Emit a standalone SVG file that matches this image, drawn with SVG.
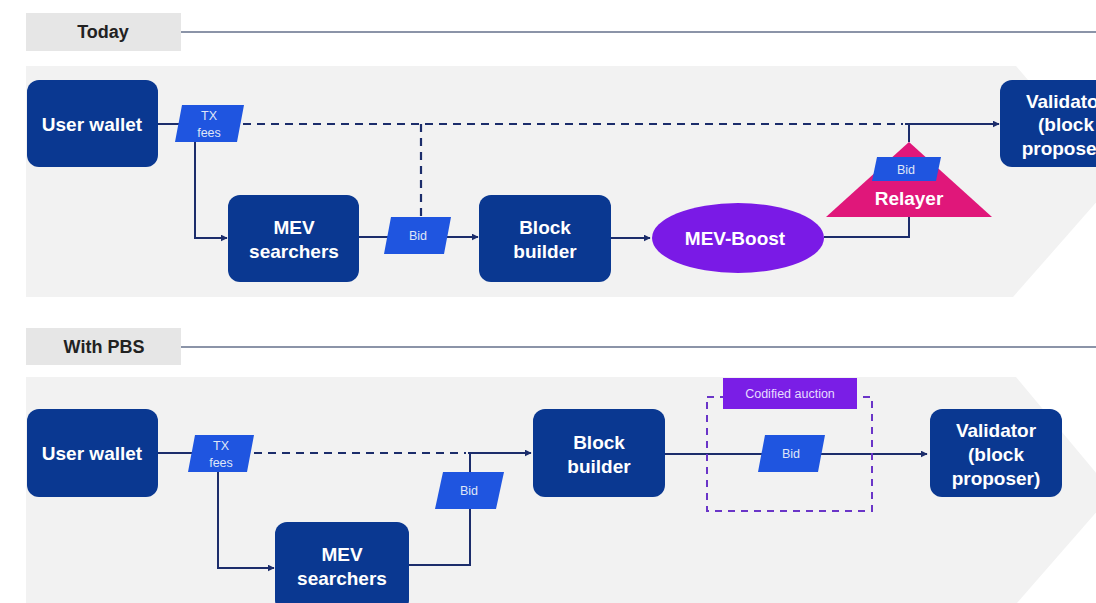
<svg xmlns="http://www.w3.org/2000/svg" width="1096" height="603" viewBox="0 0 1096 603">
<defs>
<marker id="arr" viewBox="0 0 10 10" refX="9" refY="5" markerWidth="7" markerHeight="7" markerUnits="userSpaceOnUse" orient="auto">
<path d="M0,0 L10,5 L0,10 z" fill="#1c2d6b"/>
</marker>
<style>
.tab{fill:#e6e6e6}
.tabt{font-family:"Liberation Sans",Arial,sans-serif;font-weight:bold;font-size:18px;fill:#222;text-anchor:middle}
.rule{stroke:#8b94a8;stroke-width:2;fill:none}
.panel{fill:#f2f2f2}
.box{fill:#0a3891}
.bt{font-family:"Liberation Sans",Arial,sans-serif;font-weight:bold;font-size:19px;fill:#fff;text-anchor:middle}
.par{fill:#1f55e0}
.pt{font-family:"Liberation Sans",Arial,sans-serif;font-size:12.5px;fill:#dfe6f7;text-anchor:middle}
.ln{stroke:#1c2d6b;stroke-width:2;fill:none}
.dash{stroke:#1c2d6b;stroke-width:2.2;fill:none;stroke-dasharray:8,6}
</style>
</defs>
<rect width="1096" height="603" fill="#ffffff"/>

<!-- Today section -->
<g id="tab-today">
<rect class="tab" x="26" y="13" width="155" height="38"/>
<text class="tabt" x="103" y="38">Today</text>
</g>
<line class="rule" x1="181" y1="32" x2="1096" y2="32"/>
<polygon class="panel" points="26,66 1016,66 1115,181 1013,297 26,297"/>

<g id="connectors-today">
<line class="ln" x1="158" y1="124" x2="179" y2="124"/>
<line class="dash" x1="243" y1="124" x2="903" y2="124"/>
<line class="dash" x1="421" y1="124" x2="421" y2="217"/>
<polyline class="ln" points="905,124 999,124" marker-end="url(#arr)"/>
<line class="ln" x1="909" y1="124" x2="909" y2="142"/>
<polyline class="ln" points="195,142 195,238 227,238" marker-end="url(#arr)"/>
<line class="ln" x1="359" y1="237" x2="388" y2="237"/>
<polyline class="ln" points="447,237 478,237" marker-end="url(#arr)"/>
<polyline class="ln" points="610,238 650,238" marker-end="url(#arr)"/>
<polyline class="ln" points="824,237 909,237 909,217"/>
</g>

<g id="user-wallet-1">
<rect class="box" x="27" y="80" width="131" height="87" rx="12"/>
<text class="bt" x="92" y="131">User wallet</text>
</g>
<g id="tx-fees-1">
<polygon class="par" points="182,105 244,105 237,142 175,142"/>
<text class="pt" x="209" y="120">TX</text>
<text class="pt" x="209" y="137">fees</text>
</g>
<g id="mev-searchers-1">
<rect class="box" x="228" y="195" width="131" height="87" rx="12"/>
<text class="bt" x="294" y="234">MEV</text>
<text class="bt" x="294" y="258">searchers</text>
</g>
<g id="bid-1">
<polygon class="par" points="391,217 451,217 444,254 384,254"/>
<text class="pt" x="418" y="240">Bid</text>
</g>
<g id="block-builder-1">
<rect class="box" x="479" y="195" width="132" height="87" rx="12"/>
<text class="bt" x="545" y="234">Block</text>
<text class="bt" x="545" y="258">builder</text>
</g>
<g id="mev-boost">
<ellipse cx="738" cy="238" rx="86" ry="35" fill="#7a1ae6"/>
<text class="bt" x="735" y="245">MEV-Boost</text>
</g>
<g id="relayer">
<polygon points="909,142 992,217 826,217" fill="#e0177a"/>
<polygon class="par" points="877,157 941,157 936,181 872,181"/>
<text class="pt" x="906" y="174">Bid</text>
<text class="bt" x="909" y="205">Relayer</text>
</g>
<g id="validator-1">
<rect class="box" x="1000" y="80" width="131" height="87" rx="12"/>
<text class="bt" x="1066" y="108">Validator</text>
<text class="bt" x="1066" y="131">(block</text>
<text class="bt" x="1066" y="155">proposer)</text>
</g>

<!-- With PBS section -->
<g id="tab-pbs">
<rect class="tab" x="26" y="328" width="155" height="37"/>
<text class="tabt" x="104" y="353">With PBS</text>
</g>
<line class="rule" x1="181" y1="347" x2="1096" y2="347"/>
<polygon class="panel" points="26,377 1016,377 1113,493 1017,603 26,603"/>

<g id="connectors-pbs">
<line class="ln" x1="158" y1="453" x2="192" y2="453"/>
<line class="dash" x1="254" y1="453" x2="466" y2="453"/>
<polyline class="ln" points="468,453 531,453" marker-end="url(#arr)"/>
<line class="ln" x1="470" y1="453" x2="470" y2="472"/>
<polyline class="ln" points="470,509 470,565 409,565"/>
<polyline class="ln" points="218,472 218,568 274,568" marker-end="url(#arr)"/>
<polyline class="ln" points="665,454 927,454" marker-end="url(#arr)"/>
</g>

<g id="user-wallet-2">
<rect class="box" x="27" y="409" width="131" height="88" rx="12"/>
<text class="bt" x="92" y="460">User wallet</text>
</g>
<g id="tx-fees-2">
<polygon class="par" points="195,435 254,435 247,472 188,472"/>
<text class="pt" x="221" y="450">TX</text>
<text class="pt" x="221" y="467">fees</text>
</g>
<g id="bid-2">
<polygon class="par" points="443,472 504,472 496,509 435,509"/>
<text class="pt" x="469" y="495">Bid</text>
</g>
<g id="mev-searchers-2">
<rect class="box" x="275" y="522" width="134" height="90" rx="12"/>
<text class="bt" x="342" y="561">MEV</text>
<text class="bt" x="342" y="585">searchers</text>
</g>
<g id="block-builder-2">
<rect class="box" x="533" y="409" width="132" height="88" rx="12"/>
<text class="bt" x="599" y="449">Block</text>
<text class="bt" x="599" y="473">builder</text>
</g>
<g id="codified-auction">
<rect x="707" y="397" width="165" height="114" fill="none" stroke="#6a35c8" stroke-width="2" stroke-dasharray="7,6"/>
<rect x="723" y="378" width="134" height="31" fill="#7a1ee6"/>
<text x="790" y="398" font-family="'Liberation Sans',Arial,sans-serif" font-size="12.5" fill="#e6dcff" text-anchor="middle">Codified auction</text>
</g>
<g id="bid-3">
<polygon class="par" points="765,435 825,435 818,472 758,472"/>
<text class="pt" x="791" y="458">Bid</text>
</g>
<g id="validator-2">
<rect class="box" x="930" y="409" width="132" height="88" rx="12"/>
<text class="bt" x="996" y="437">Validator</text>
<text class="bt" x="996" y="461">(block</text>
<text class="bt" x="996" y="485">proposer)</text>
</g>
</svg>
